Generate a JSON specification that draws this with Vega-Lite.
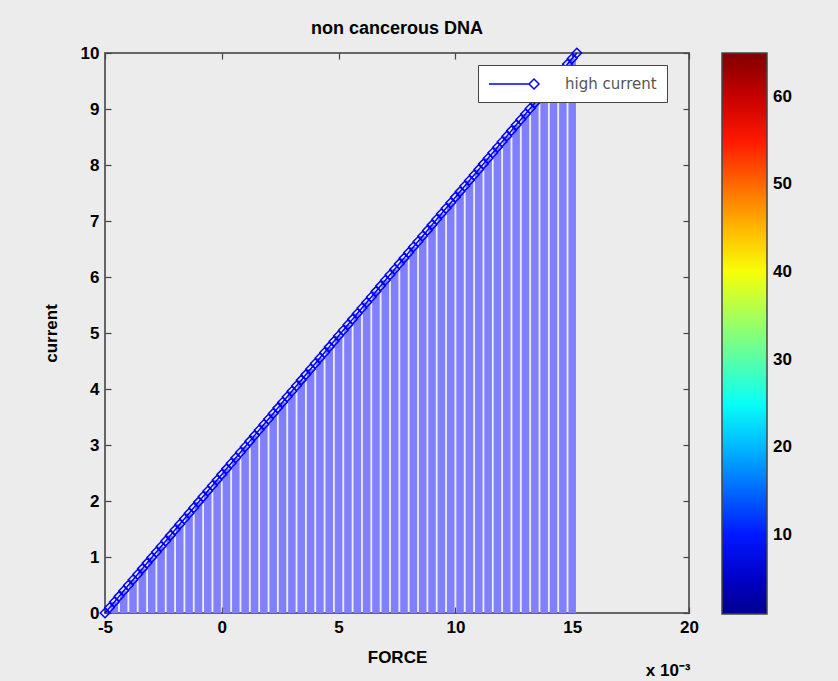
{
  "$schema": "https://vega.github.io/schema/vega-lite/v6.json",
  "width": 584,
  "height": 560,
  "autosize": {"type": "none"},
  "padding": {"left": 105, "top": 53, "right": 149, "bottom": 68},
  "background": "#ececec",
  "title": {"text": "non cancerous DNA", "font": "Liberation Sans", "fontSize": 18, "fontWeight": "bold", "color": "black", "offset": 6},
  "data": {"values": [
    {"force": -5, "current": 0}, {"force": -4.8, "current": 0.099}, {"force": -4.6, "current": 0.198}, {"force": -4.4, "current": 0.297},
    {"force": -4.2, "current": 0.396}, {"force": -4, "current": 0.495}, {"force": -3.8, "current": 0.594}, {"force": -3.6, "current": 0.693},
    {"force": -3.4, "current": 0.792}, {"force": -3.2, "current": 0.891}, {"force": -3, "current": 0.990}, {"force": -2.8, "current": 1.089},
    {"force": -2.6, "current": 1.188}, {"force": -2.4, "current": 1.287}, {"force": -2.2, "current": 1.386}, {"force": -2, "current": 1.485},
    {"force": -1.8, "current": 1.584}, {"force": -1.6, "current": 1.683}, {"force": -1.4, "current": 1.782}, {"force": -1.2, "current": 1.881},
    {"force": -1, "current": 1.980}, {"force": -0.8, "current": 2.079}, {"force": -0.6, "current": 2.178}, {"force": -0.4, "current": 2.277},
    {"force": -0.2, "current": 2.376}, {"force": 0, "current": 2.475}, {"force": 0.2, "current": 2.574}, {"force": 0.4, "current": 2.673},
    {"force": 0.6, "current": 2.772}, {"force": 0.8, "current": 2.871}, {"force": 1, "current": 2.970}, {"force": 1.2, "current": 3.069},
    {"force": 1.4, "current": 3.168}, {"force": 1.6, "current": 3.267}, {"force": 1.8, "current": 3.366}, {"force": 2, "current": 3.465},
    {"force": 2.2, "current": 3.564}, {"force": 2.4, "current": 3.663}, {"force": 2.6, "current": 3.762}, {"force": 2.8, "current": 3.861},
    {"force": 3, "current": 3.960}, {"force": 3.2, "current": 4.059}, {"force": 3.4, "current": 4.158}, {"force": 3.6, "current": 4.257},
    {"force": 3.8, "current": 4.356}, {"force": 4, "current": 4.455}, {"force": 4.2, "current": 4.554}, {"force": 4.4, "current": 4.653},
    {"force": 4.6, "current": 4.752}, {"force": 4.8, "current": 4.851}, {"force": 5, "current": 4.950}, {"force": 5.2, "current": 5.050},
    {"force": 5.4, "current": 5.149}, {"force": 5.6, "current": 5.248}, {"force": 5.8, "current": 5.347}, {"force": 6, "current": 5.446},
    {"force": 6.2, "current": 5.545}, {"force": 6.4, "current": 5.644}, {"force": 6.6, "current": 5.743}, {"force": 6.8, "current": 5.842},
    {"force": 7, "current": 5.941}, {"force": 7.2, "current": 6.040}, {"force": 7.4, "current": 6.139}, {"force": 7.6, "current": 6.238},
    {"force": 7.8, "current": 6.337}, {"force": 8, "current": 6.436}, {"force": 8.2, "current": 6.535}, {"force": 8.4, "current": 6.634},
    {"force": 8.6, "current": 6.733}, {"force": 8.8, "current": 6.832}, {"force": 9, "current": 6.931}, {"force": 9.2, "current": 7.030},
    {"force": 9.4, "current": 7.129}, {"force": 9.6, "current": 7.228}, {"force": 9.8, "current": 7.327}, {"force": 10, "current": 7.426},
    {"force": 10.2, "current": 7.525}, {"force": 10.4, "current": 7.624}, {"force": 10.6, "current": 7.723}, {"force": 10.8, "current": 7.822},
    {"force": 11, "current": 7.921}, {"force": 11.2, "current": 8.020}, {"force": 11.4, "current": 8.119}, {"force": 11.6, "current": 8.218},
    {"force": 11.8, "current": 8.317}, {"force": 12, "current": 8.416}, {"force": 12.2, "current": 8.515}, {"force": 12.4, "current": 8.614},
    {"force": 12.6, "current": 8.713}, {"force": 12.8, "current": 8.812}, {"force": 13, "current": 8.911}, {"force": 13.2, "current": 9.010},
    {"force": 13.4, "current": 9.109}, {"force": 13.6, "current": 9.208}, {"force": 13.8, "current": 9.307}, {"force": 14, "current": 9.406},
    {"force": 14.2, "current": 9.505}, {"force": 14.4, "current": 9.604}, {"force": 14.6, "current": 9.703}, {"force": 14.8, "current": 9.802},
    {"force": 15, "current": 9.901}, {"force": 15.2, "current": 10.0}
  ]},
  "layer": [
    {
      "transform": [{"filter": "abs(round(datum.force * 5)) % 2 == 1"}],
      "mark": {"type": "rule", "stroke": "#8080ff", "strokeWidth": 7.5},
      "encoding": {
        "x": {"field": "force", "type": "quantitative", "scale": {"domain": [-5, 20], "nice": false, "zero": false},
              "axis": {"orient": "bottom", "values": [-5, 0, 5, 10, 15, 20], "labelExpr": "replace(datum.label, '−', '-')", "labelFlush": false, "title": "FORCE", "titlePadding": 14, "labelPadding": 12, "tickSize": -6, "domain": false, "grid": false}},
        "y": {"field": "current", "type": "quantitative", "scale": {"domain": [0, 10], "nice": false},
              "axis": {"orient": "left", "values": [0, 1, 2, 3, 4, 5, 6, 7, 8, 9, 10], "labelFlush": false, "title": "current", "titlePadding": 20, "labelPadding": 12, "tickSize": -6, "domain": false, "grid": false}},
        "y2": {"datum": 0}
      }
    },
    {
      "mark": {"type": "line", "strokeWidth": 1.5},
      "encoding": {
        "x": {"field": "force", "type": "quantitative",
              "axis": {"orient": "top", "values": [-5, 0, 5, 10, 15, 20], "labels": false, "title": null, "tickSize": -6, "domain": false, "grid": false}},
        "y": {"field": "current", "type": "quantitative",
              "axis": {"orient": "right", "values": [0, 1, 2, 3, 4, 5, 6, 7, 8, 9, 10], "labels": false, "title": null, "tickSize": -6, "domain": false, "grid": false}},
        "stroke": {"datum": "high current", "type": "nominal", "scale": {"range": ["#0000ff"]},
                   "legend": {"title": null, "orient": "none", "legendX": 373, "legendY": 12, "padding": 10,
                              "strokeColor": "#444", "fillColor": "white",
                              "symbolType": "M-1,0L4,0M4,0L4.625,-0.625L5.25,0L4.625,0.625Z", "symbolSize": 256, "symbolStrokeWidth": 1.5,
                              "labelOffset": 59, "labelFont": "DejaVu Sans", "labelFontSize": 15, "labelColor": "#555"}}
      }
    },
    {
      "mark": {"type": "point", "shape": "diamond", "filled": false, "size": 90, "strokeWidth": 1.5, "opacity": 1},
      "encoding": {
        "x": {"field": "force", "type": "quantitative",
              "axis": {"orient": "bottom", "labels": false, "ticks": false, "domain": false, "grid": false, "title": "x 10⁻³",
                       "titleAnchor": "end", "titleAlign": "right", "titleBaseline": "alphabetic", "titleX": 585, "titleY": 62}},
        "y": {"field": "current", "type": "quantitative", "axis": null},
        "stroke": {"datum": "high current", "type": "nominal"}
      }
    },
    {
      "data": {"values": [{"c": 1}, {"c": 64}]},
      "mark": {"type": "point", "size": 0, "strokeWidth": 0, "filled": true, "opacity": 1},
      "encoding": {
        "fill": {"field": "c", "type": "quantitative",
                 "scale": {"domain": [1, 1.5, 8.5, 24.5, 40.5, 56.5, 64.5, 65], "range": ["#00008f", "#00008f", "#0000ff", "#00ffff", "#ffff00", "#ff0000", "#800000", "#800000"], "interpolate": "rgb"},
                 "legend": {"title": null, "orient": "none", "legendX": 617, "legendY": 0, "direction": "vertical",
                            "gradientLength": 561, "gradientThickness": 45, "gradientStrokeColor": "#444", "gradientStrokeWidth": 1.5,
                            "values": [10, 20, 30, 40, 50, 60], "labelOffset": 6, "labelOverlap": false,
                            "labelFont": "Liberation Sans", "labelFontSize": 17, "labelFontWeight": "bold", "labelColor": "black"}}
      }
    }
  ],
  "resolve": {"axis": {"x": "independent", "y": "independent"}},
  "config": {
    "view": {"stroke": "#666", "strokeWidth": 2, "fill": "white"},
    "axis": {"labelFont": "Liberation Sans", "labelFontSize": 17, "labelFontWeight": "bold", "labelColor": "black",
             "titleFont": "Liberation Sans", "titleFontSize": 17, "titleFontWeight": "bold", "titleColor": "black",
             "tickColor": "#444", "tickWidth": 1.2}
  }
}
